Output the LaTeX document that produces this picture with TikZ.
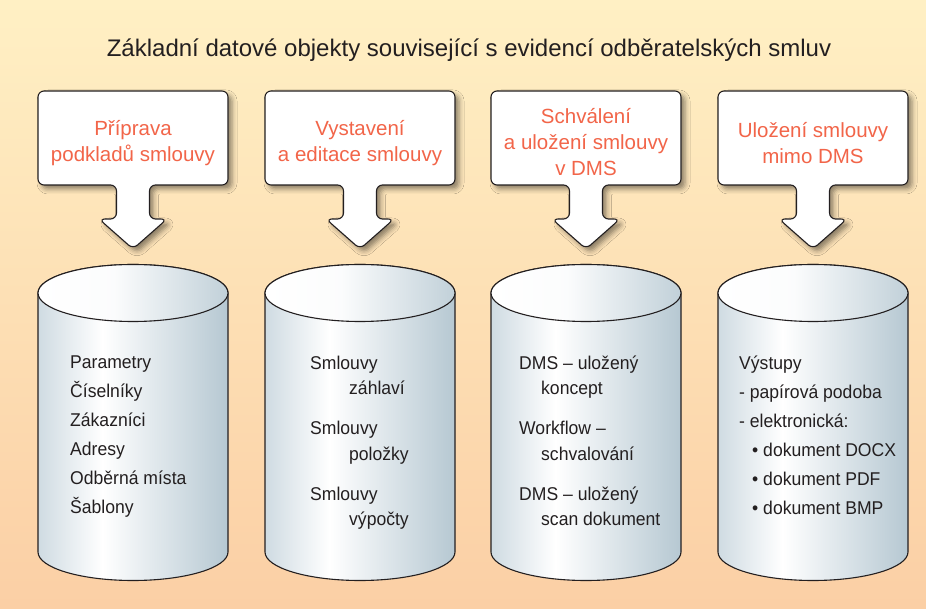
\documentclass[tikz,border=0pt]{standalone}
\usepackage{fontspec}
\setmainfont{Liberation Sans}
\newfontfamily\narrowfont[FakeStretch=0.95]{Liberation Sans}
\usetikzlibrary{shadows.blur}
\definecolor{bgtop}{HTML}{FFF0C4}
\definecolor{bgbottom}{HTML}{FBCFA5}
\definecolor{headred}{HTML}{F26549}
\definecolor{inkgray}{HTML}{231F20}
\definecolor{dbleft}{HTML}{CFDBE2}
\definecolor{dbright}{HTML}{B6C8D2}
\pgfdeclarehorizontalshading{dbbody}{100bp}{color(0bp)=(dbleft); color(25bp)=(dbleft); color(42bp)=(white); color(75bp)=(dbright); color(100bp)=(dbright)}
\pgfdeclarehorizontalshading{dbtop}{100bp}{color(0bp)=(white); color(25bp)=(white); color(45bp)=(white!95!dbright); color(75bp)=(dbright!85); color(100bp)=(dbright!85)}
\tikzset{callout/.style={draw=inkgray, line width=1.1pt, fill=white, rounded corners=6pt,
                         blur shadow={shadow xshift=4pt, shadow yshift=-4pt, shadow blur radius=5pt, shadow opacity=45}},
         boxtext/.style={align=center, text=headred, font=\fontsize{20.5}{26}\selectfont},
         dbtext/.style={align=left, anchor=north west, inner sep=0pt, text=inkgray, font=\narrowfont\fontsize{18.5}{29}\selectfont},
         db/.style={draw=inkgray, line width=1.1pt},
        }

\begin{document}
\begin{tikzpicture}[x=1pt,y=1pt]
        \useasboundingbox (0,0) rectangle (926,608);
        \shade[top color=bgtop, bottom color=bgbottom] (0,0) rectangle (926,608);
        \node[font=\fontsize{24}{28}\selectfont, text=inkgray, anchor=base](title)at(469,551){Základní datové objekty související s evidencí odběratelských smluv};

        % callout boxes with arrows
        \foreach \c in {133,360,586,813} {
            \draw[callout](\c,517)--(\c+95,517)--(\c+95,423)--(\c+16.5,423)--(\c+16.5,389)
                --(\c+34,389)--(\c,359)--(\c-34,389)--(\c-16.5,389)--(\c-16.5,423)
                --(\c-95,423)--(\c-95,517)--cycle;
        }
        \node[boxtext](prep)at(133,465){Příprava\\podkladů smlouvy};
        \node[boxtext](edit)at(360,465){Vystavení\\a editace smlouvy};
        \node[boxtext](appr)at(586,466){Schválení\\a uložení smlouvy\\v DMS};
        \node[boxtext](keep)at(813,465){Uložení smlouvy\\mimo DMS};

        % databases
        \foreach \c in {133,360,586,813} {
            \shadedraw[db, shading=dbbody](\c-95,315)--(\c-95,56)
                arc[start angle=180, end angle=360, x radius=95, y radius=28.5]
                --(\c+95,315) arc[start angle=0, end angle=180, x radius=95, y radius=28.5]--cycle;
            \shadedraw[db, shading=dbtop](\c,315) ellipse[x radius=95, y radius=28.5];
        }

        \node[dbtext](base)at(70,252.5){Parametry\\Číselníky\\Zákazníci\\Adresy\\Odběrná místa\\Šablony};
        \node[dbtext, font=\narrowfont\fontsize{18.5}{25.5}\selectfont](contracts)at(310,252.5){Smlouvy\\\hspace*{39pt}záhlaví\\[14.5pt]Smlouvy\\\hspace*{39pt}položky\\[14.5pt]Smlouvy\\\hspace*{39pt}výpočty};
        \node[dbtext, font=\narrowfont\fontsize{18.5}{25.5}\selectfont](dms)at(519,252.5){DMS – uložený\\\hspace*{22pt}koncept\\[14.5pt]Workflow –\\\hspace*{22pt}schvalování\\[14.5pt]DMS – uložený\\\hspace*{22pt}scan dokument};
        \node[dbtext](outputs)at(739,252.5){Výstupy\\- papírová podoba\\- elektronická:\\\hspace*{13pt}• dokument DOCX\\\hspace*{13pt}• dokument PDF\\\hspace*{13pt}• dokument BMP};
\end{tikzpicture}
\end{document}
